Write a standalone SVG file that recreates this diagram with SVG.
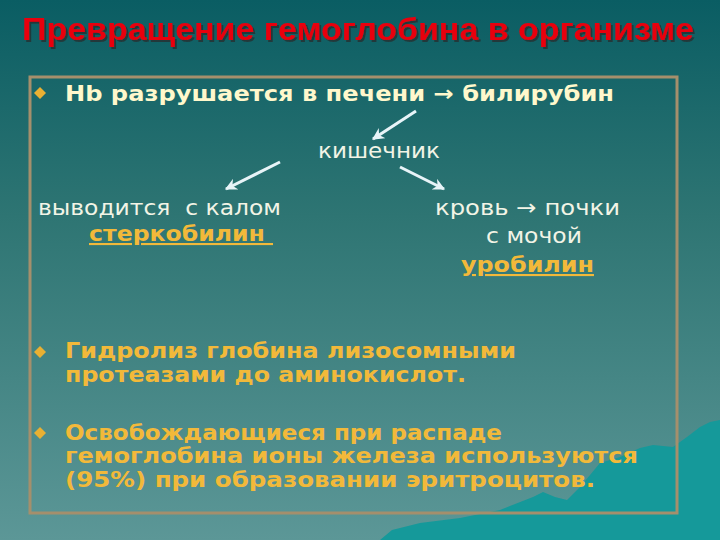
<svg xmlns="http://www.w3.org/2000/svg" width="720" height="540" viewBox="0 0 720 540">
<defs>
<linearGradient id="bg" x1="0" y1="0" x2="0" y2="1">
<stop offset="0" stop-color="#0a5d63"/>
<stop offset="0.4" stop-color="#2e7573"/>
<stop offset="1" stop-color="#5c9797"/>
</linearGradient>
<filter id="sh" x="-5%" y="-30%" width="110%" height="160%">
<feDropShadow dx="2" dy="2" stdDeviation="0.6" flood-color="#2a2222" flood-opacity="0.6"/>
</filter>
<marker id="ah" viewBox="0 0 10 10" refX="9" refY="5" markerWidth="4" markerHeight="4" orient="auto" markerUnits="strokeWidth">
<path d="M0,0 L10,5 L0,10 L3,5 Z" fill="#e8f4f8"/>
</marker>
<path id="dia" d="M0,-6 L6,0 L0,6 L-6,0 Z"/>
</defs>
<style>
.title{font-family:"Liberation Sans",Arial,sans-serif;font-weight:bold;font-size:32px;fill:#e8000c}
.b{font-family:"DejaVu Sans",Verdana,sans-serif;font-weight:bold;font-size:21px}
.n{font-family:"DejaVu Sans",Verdana,sans-serif;font-size:22px;fill:#f2f4e6}
.cream{fill:#fff8cc}
.gold{fill:#f2b93a}
.bul{fill:#e9b032}
.arr{stroke:#e8f4f8;stroke-width:3;fill:none;marker-end:url(#ah)}
</style>
<rect x="0" y="0" width="720" height="540" fill="url(#bg)"/>
<path d="M380,540 L392,530 L420,523 L460,518 L500,510 L533,497 L543,492 L555,497 L567,500 L580,487 L600,463 L620,457 L640,448 L653,445 L673,447 L687,437 L700,427 L710,422 L720,420 L720,540 Z" fill="#15999a"/>
<rect x="30" y="77" width="647" height="436" fill="none" stroke="#a58f6c" stroke-width="3"/>
<text class="title" x="22" y="40" textLength="672" lengthAdjust="spacingAndGlyphs" filter="url(#sh)">Превращение гемоглобина в организме</text>
<g id="bullet1">
<use href="#dia" x="40" y="93" class="bul"/>
<text class="b cream" x="65" y="101" font-size="22" textLength="549" lengthAdjust="spacingAndGlyphs">Hb разрушается в печени → билирубин</text>
</g>
<g id="intestine">
<text class="n" x="318" y="158" textLength="122" lengthAdjust="spacingAndGlyphs">кишечник</text>
</g>
<g id="feces">
<text class="n" x="38" y="215" textLength="243" lengthAdjust="spacingAndGlyphs" xml:space="preserve">выводится  с калом</text>
<text class="b gold" x="89" y="241" textLength="184" lengthAdjust="spacingAndGlyphs" text-decoration="underline" xml:space="preserve">стеркобилин </text>
</g>
<g id="blood">
<text class="n" x="435" y="215" textLength="185" lengthAdjust="spacingAndGlyphs">кровь → почки</text>
<text class="n" x="486" y="243" textLength="96" lengthAdjust="spacingAndGlyphs">с мочой</text>
<text class="b gold" x="461" y="272" textLength="133" lengthAdjust="spacingAndGlyphs" text-decoration="underline">уробилин</text>
</g>
<g id="connectors">
<line class="arr" x1="416" y1="111" x2="373" y2="139"/>
<line class="arr" x1="280" y1="162" x2="226" y2="189"/>
<line class="arr" x1="400" y1="167" x2="444" y2="189"/>
</g>
<g id="bullet2">
<use href="#dia" x="40" y="352" class="bul"/>
<text class="b gold" x="65" y="358" textLength="451" lengthAdjust="spacingAndGlyphs">Гидролиз глобина лизосомными</text>
<text class="b gold" x="65" y="382" textLength="401" lengthAdjust="spacingAndGlyphs">протеазами до аминокислот.</text>
</g>
<g id="bullet3">
<use href="#dia" x="40" y="433" class="bul"/>
<text class="b gold" x="65" y="440" textLength="437" lengthAdjust="spacingAndGlyphs">Освобождающиеся при распаде</text>
<text class="b gold" x="65" y="463" textLength="573" lengthAdjust="spacingAndGlyphs">гемоглобина ионы железа используются</text>
<text class="b gold" x="65" y="487" textLength="530" lengthAdjust="spacingAndGlyphs">(95%) при образовании эритроцитов.</text>
</g>
</svg>
